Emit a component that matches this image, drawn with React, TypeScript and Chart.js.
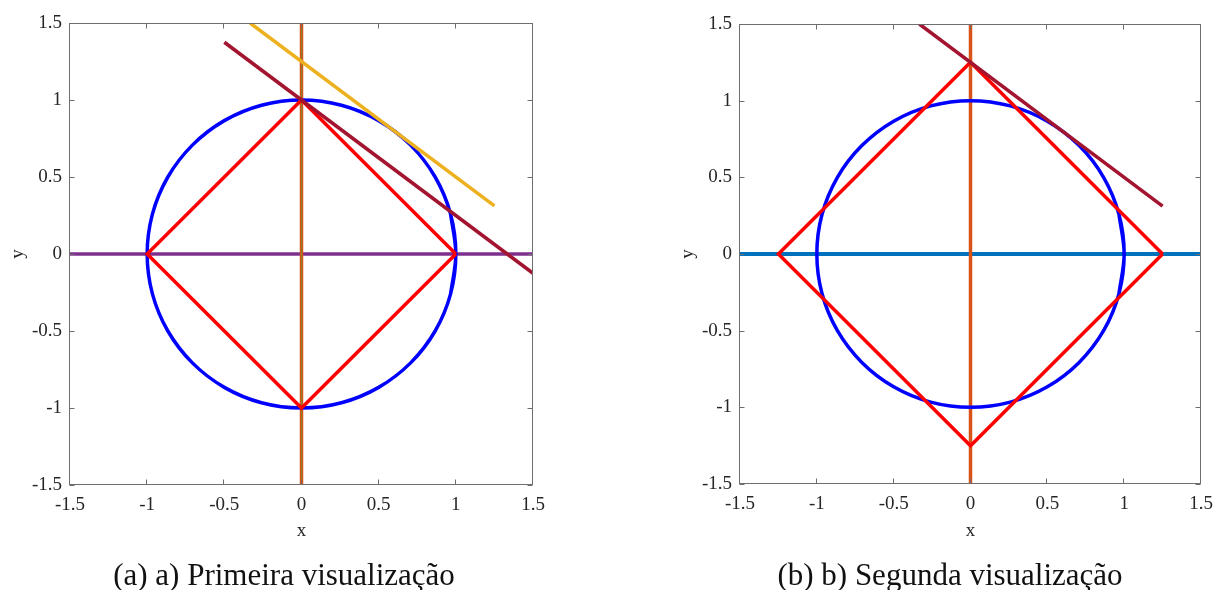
import React, { useEffect, useRef } from 'react';
import { Chart, registerables } from 'chart.js';

Chart.register(...registerables);

// ---------- data ----------
// unit circle, sampled every 15 degrees (ends overlap so the curve closes smoothly)
const circleX = [0.966, 1, 0.966, 0.866, 0.707, 0.5, 0.259, 0, -0.259, -0.5, -0.707, -0.866, -0.966, -1, -0.966, -0.866, -0.707, -0.5, -0.259, 0, 0.259, 0.5, 0.707, 0.866, 0.966, 1, 0.966];
const circleY = [-0.259, 0, 0.259, 0.5, 0.707, 0.866, 0.966, 1, 0.966, 0.866, 0.707, 0.5, 0.259, 0, -0.259, -0.5, -0.707, -0.866, -0.966, -1, -0.966, -0.866, -0.707, -0.5, -0.259, 0, 0.259];

const diamondAX = [1, 0, -1, 0, 1];
const diamondAY = [0, 1, 0, -1, 0];
const diamondBX = [1.25, 0, -1.25, 0, 1.25];
const diamondBY = [0, 1.25, 0, -1.25, 0];

const horizX = [-1.5, 1.5];
const horizY = [0, 0];
const vertX = [0, 0];
const vertY = [-1.5, 1.5];

const tangentAX = [-0.333, 1.25];
const tangentAY = [1.5, 0.3125];
const secantAX = [-0.5, 1.5];
const secantAY = [1.375, -0.125];
const tangentBX = [-0.333, 1.25];
const tangentBY = [1.5, 0.3125];

const tickValues = [-1.5, -1, -0.5, 0, 0.5, 1, 1.5];
const tickLabels = ['-1.5', '-1', '-0.5', '0', '0.5', '1', '1.5'];
const captions = ['(a) a) Primeira visualização', '(b) b) Segunda visualização'];
const axisTitles = ['x', 'y'];

// ---------- helpers ----------
const pts = (xs: number[], ys: number[]) => xs.map((x, i) => ({ x, y: ys[i] }));

const line = (xs: number[], ys: number[], color: string, width = 3.5, tension = 0) => ({
  data: pts(xs, ys),
  borderColor: color,
  backgroundColor: color,
  borderWidth: width,
  showLine: true,
  pointRadius: 0,
  pointHoverRadius: 0,
  tension,
  fill: false,
  clip: 0,
});

const FONT = "'Liberation Serif', 'Times New Roman', serif";
const TXT = '#262626';

const boxPlugin = {
  id: 'matlabBox',
  afterDatasetsDraw(chart: any) {
    const { ctx, chartArea: a, scales } = chart;
    ctx.save();
    ctx.strokeStyle = '#6e6e6e';
    ctx.lineWidth = 1;
    const l = Math.round(a.left) - 0.5;
    const r = Math.round(a.right) - 0.5;
    const t = Math.round(a.top) + 0.5;
    const b = Math.round(a.bottom) - 0.5;
    ctx.strokeRect(l, t, r - l, b - t);
    const tl = 5;
    ctx.beginPath();
    for (const v of tickValues) {
      const px = Math.round(scales.x.getPixelForValue(v)) - 0.5;
      ctx.moveTo(px, b); ctx.lineTo(px, b - tl);
      ctx.moveTo(px, t); ctx.lineTo(px, t + tl);
      const py = Math.round(scales.y.getPixelForValue(v)) + 0.5;
      ctx.moveTo(l, py); ctx.lineTo(l + tl, py);
      ctx.moveTo(r, py); ctx.lineTo(r - tl, py);
    }
    ctx.stroke();
    ctx.restore();
  },
};

const labelFor = (v: number) => {
  const i = tickValues.findIndex((t) => Math.abs(t - v) < 1e-9);
  return i >= 0 ? tickLabels[i] : '';
};

function makeOptions(pad: { top: number; right: number }, xH: number, yW: number) {
  const tickFont = { family: FONT, size: 19 };
  return {
    animation: false as const,
    responsive: false,
    maintainAspectRatio: false,
    layout: { padding: { top: pad.top, right: pad.right, left: 0, bottom: 0 } },
    plugins: { legend: { display: false }, tooltip: { enabled: false }, title: { display: false } },
    events: [] as any[],
    scales: {
      x: {
        type: 'linear' as const,
        min: -1.5,
        max: 1.5,
        afterBuildTicks: (s: any) => { s.ticks = tickValues.map((value) => ({ value })); },
        afterFit: (s: any) => { s.height = xH; },
        grid: { display: false, drawTicks: false },
        border: { display: false },
        ticks: { color: TXT, font: tickFont, padding: 9, maxRotation: 0, autoSkip: false, callback: (v: any) => labelFor(Number(v)) },
        title: { display: true, text: axisTitles[0], color: TXT, font: tickFont, padding: { top: 0, bottom: 48 } },
      },
      y: {
        type: 'linear' as const,
        min: -1.5,
        max: 1.5,
        afterBuildTicks: (s: any) => { s.ticks = tickValues.map((value) => ({ value })); },
        afterFit: (s: any) => { s.width = yW; },
        grid: { display: false, drawTicks: false },
        border: { display: false },
        ticks: { color: TXT, font: tickFont, padding: 8, autoSkip: false, callback: (v: any) => labelFor(Number(v)) },
        title: { display: true, text: axisTitles[1], color: TXT, font: tickFont, padding: { top: 7, bottom: 0 } },
      },
    },
  };
}

function Plot(props: { datasets: any[]; left: number; width: number; padTop: number; padRight: number; xH: number }) {
  const ref = useRef<HTMLCanvasElement | null>(null);
  useEffect(() => {
    if (!ref.current) return;
    const chart = new Chart(ref.current, {
      type: 'scatter',
      data: { datasets: props.datasets },
      options: makeOptions({ top: props.padTop, right: props.padRight }, props.xH, 70) as any,
      plugins: [boxPlugin],
    });
    return () => chart.destroy();
  }, []);
  return (
    <canvas
      ref={ref}
      width={props.width}
      height={590}
      style={{ position: 'absolute', left: props.left, top: 0, width: props.width, height: 590, display: 'block' }}
    />
  );
}

export default function App() {
  const dsA = [
    line(secantAX, secantAY, '#A2142F'),
    line(tangentAX, tangentAY, '#EDB120'),
    line(diamondAX, diamondAY, '#FF0000'),
    line(circleX, circleY, '#0000FF', 3.5, 0.34),
    line(vertX, vertY, '#6f8f2a', 0.8),
    line(vertX, vertY, '#D95319', 3.5),
    line(horizX, horizY, '#7E2F8E'),
  ];
  const dsB = [
    line(tangentBX, tangentBY, '#A2142F'),
    line(diamondBX, diamondBY, '#FF0000'),
    line(circleX, circleY, '#0000FF', 3.5, 0.34),
    line(vertX, vertY, '#D95319', 3.5),
    line(horizX, horizY, '#0072BD', 4),
  ];
  const capStyle = (center: number): React.CSSProperties => ({
    position: 'absolute',
    top: 559,
    left: center - 250,
    width: 500,
    textAlign: 'center',
    fontFamily: FONT,
    fontSize: 31,
    lineHeight: '31px',
    color: '#111',
    whiteSpace: 'nowrap',
  });
  return (
    <div style={{ position: 'fixed', left: 0, top: 0, width: 1222, height: 590, background: '#fff', overflow: 'hidden' }}>
      <Plot datasets={dsA} left={0} width={611} padTop={23} padRight={78} xH={105} />
      <Plot datasets={dsB} left={670} width={552} padTop={24} padRight={21} xH={106} />
      <div style={capStyle(284)}>{captions[0]}</div>
      <div style={capStyle(950)}>{captions[1]}</div>
    </div>
  );
}
